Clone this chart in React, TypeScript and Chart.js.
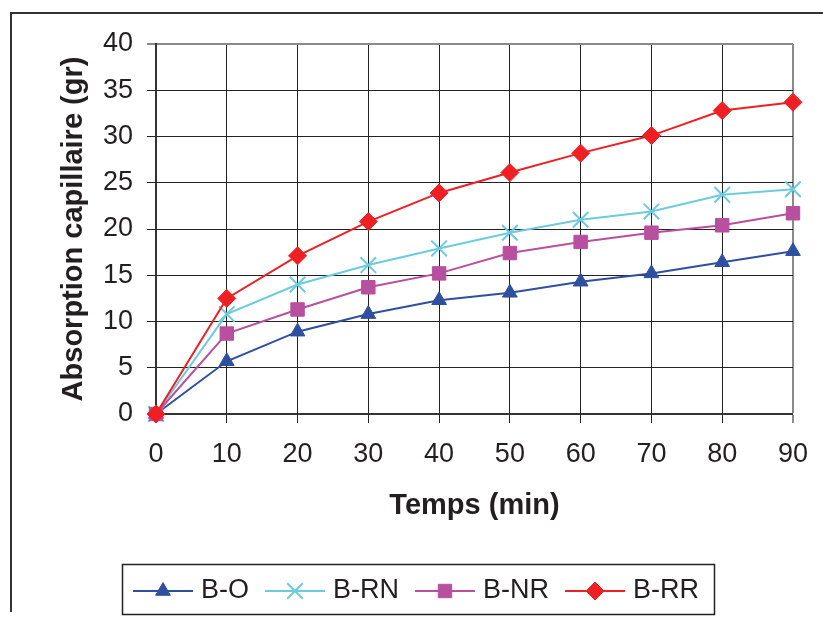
import React, { useEffect, useRef } from "react";
import { Chart, registerables } from "chart.js";
import { drawPoint } from "chart.js/helpers";

Chart.register(...registerables);

const times = [0, 10, 20, 30, 40, 50, 60, 70, 80, 90];
const seriesNames = ["B-O", "B-RN", "B-NR", "B-RR"];
const valuesBO = [0, 5.7, 8.9, 10.8, 12.3, 13.1, 14.3, 15.2, 16.4, 17.6];
const valuesBRN = [0, 10.8, 14.0, 16.1, 17.9, 19.6, 21.0, 21.9, 23.7, 24.3];
const valuesBNR = [0, 8.7, 11.3, 13.7, 15.2, 17.4, 18.6, 19.6, 20.4, 21.7];
const valuesBRR = [0, 12.5, 17.1, 20.8, 23.9, 26.1, 28.2, 30.1, 32.8, 33.7];
const seriesValues = [valuesBO, valuesBRN, valuesBNR, valuesBRR];
const seriesColors = ["#2f4f9f", "#6ccbde", "#b84f9f", "#ee2024"];
const seriesShapes = ["triangle", "crossRot", "rect", "rectRot"];
const seriesRadius = [8.5, 11, 9.5, 9];
const xTitle = "Temps (min)";
const yTitle = "Absorption capillaire (gr)";

const FONT = "'Liberation Sans', Arial, Helvetica, sans-serif";
const TEXT = "#231f20";

const framePlugin = {
  id: "frame",
  beforeDraw(chart: any) {
    const ctx = chart.ctx;
    ctx.save();
    ctx.strokeStyle = "#333333";
    ctx.lineWidth = 2;
    ctx.beginPath();
    ctx.moveTo(11, 612);
    ctx.lineTo(11, 13);
    ctx.lineTo(823, 13);
    ctx.stroke();
    ctx.restore();
  },
};

const legendPlugin = {
  id: "boxLegend",
  afterDraw(chart: any) {
    const ctx = chart.ctx;
    ctx.save();
    const left = 122;
    const top = 564;
    const height = 50;
    const cy = top + height / 2 + 2;
    ctx.font = `27px ${FONT}`;
    ctx.textBaseline = "middle";
    let x = left + 11;
    const lineLen = 60;
    chart.data.datasets.forEach((ds: any) => {
      ctx.strokeStyle = ds.borderColor;
      ctx.lineWidth = 2;
      ctx.beginPath();
      ctx.moveTo(x, cy);
      ctx.lineTo(x + lineLen, cy);
      ctx.stroke();
      ctx.fillStyle = ds.backgroundColor;
      ctx.strokeStyle = ds.borderColor;
      ctx.lineWidth = ds.pointBorderWidth;
      drawPoint(
        ctx,
        { pointStyle: ds.pointStyle, radius: ds.pointRadius, borderWidth: ds.pointBorderWidth, rotation: 0 } as any,
        x + lineLen / 2,
        cy
      );
      x += lineLen + 8;
      ctx.fillStyle = TEXT;
      ctx.fillText(ds.label, x, cy);
      x += ctx.measureText(ds.label).width + 16;
    });
    const right = x - 16 + 15;
    ctx.strokeStyle = "#222222";
    ctx.lineWidth = 1.5;
    ctx.strokeRect(left + 0.5, top + 0.5, right - left, height);
    ctx.restore();
  },
};

export default function App() {
  const ref = useRef<HTMLCanvasElement>(null);
  useEffect(() => {
    if (!ref.current) return;
    const datasets = seriesNames.map((name, i) => ({
      label: name,
      data: times.map((t, j) => ({ x: t, y: seriesValues[i][j] })),
      borderColor: seriesColors[i],
      backgroundColor: seriesColors[i],
      pointStyle: seriesShapes[i],
      pointRadius: seriesRadius[i],
      pointBorderWidth: seriesShapes[i] === "crossRot" ? 2 : 1,
      pointBorderColor: seriesColors[i],
      pointBackgroundColor: seriesColors[i],
      borderWidth: 2,
      tension: 0,
      clip: false,
      order: seriesNames.length - i,
    }));
    const chart = new Chart(ref.current, {
      type: "line",
      data: { datasets },
      options: {
        animation: false,
        responsive: true,
        maintainAspectRatio: false,
        layout: { padding: { top: 44, right: 29, bottom: 0, left: 0 } },
        plugins: { legend: { display: false }, tooltip: { enabled: false } },
        scales: {
          x: {
            type: "linear",
            min: 0,
            max: 90,
            afterFit: (s: any) => {
              s.height = 203;
            },
            ticks: {
              stepSize: 10,
              color: TEXT,
              font: { family: FONT, size: 27 },
              padding: 15,
              maxRotation: 0,
            },
            grid: {
              color: (c: any) => (c.tick && c.tick.value === 90 ? "#8a8a8a" : "#222222"),
              lineWidth: (c: any) => (c.tick && c.tick.value === 90 ? 2 : 1),
              tickLength: 9,
              drawTicks: true,
            },
            border: { color: "#333333", width: 2 },
            title: {
              display: true,
              text: xTitle,
              color: TEXT,
              font: { family: FONT, size: 29, weight: "bold" },
              padding: { top: 0, bottom: 94 },
            },
          },
          y: {
            type: "linear",
            min: 0,
            max: 40,
            afterFit: (s: any) => {
              s.width = 156;
            },
            ticks: {
              stepSize: 5,
              color: TEXT,
              font: { family: FONT, size: 27 },
              padding: 14,
            },
            grid: {
              color: (c: any) => (c.tick && c.tick.value === 40 ? "#8a8a8a" : "#222222"),
              lineWidth: (c: any) => (c.tick && c.tick.value === 40 ? 2 : 1),
              tickLength: 9,
              drawTicks: true,
            },
            border: { color: "#333333", width: 2 },
            title: {
              display: true,
              text: yTitle,
              color: TEXT,
              font: { family: FONT, size: 29, weight: "bold" },
              padding: { top: 57, bottom: 0 },
            },
          },
        },
      },
      plugins: [framePlugin, legendPlugin],
    });
    return () => chart.destroy();
  }, []);
  return (
    <div style={{ position: "absolute", left: 0, top: 0, width: 823, height: 617, background: "#ffffff" }}>
      <canvas ref={ref} />
    </div>
  );
}
